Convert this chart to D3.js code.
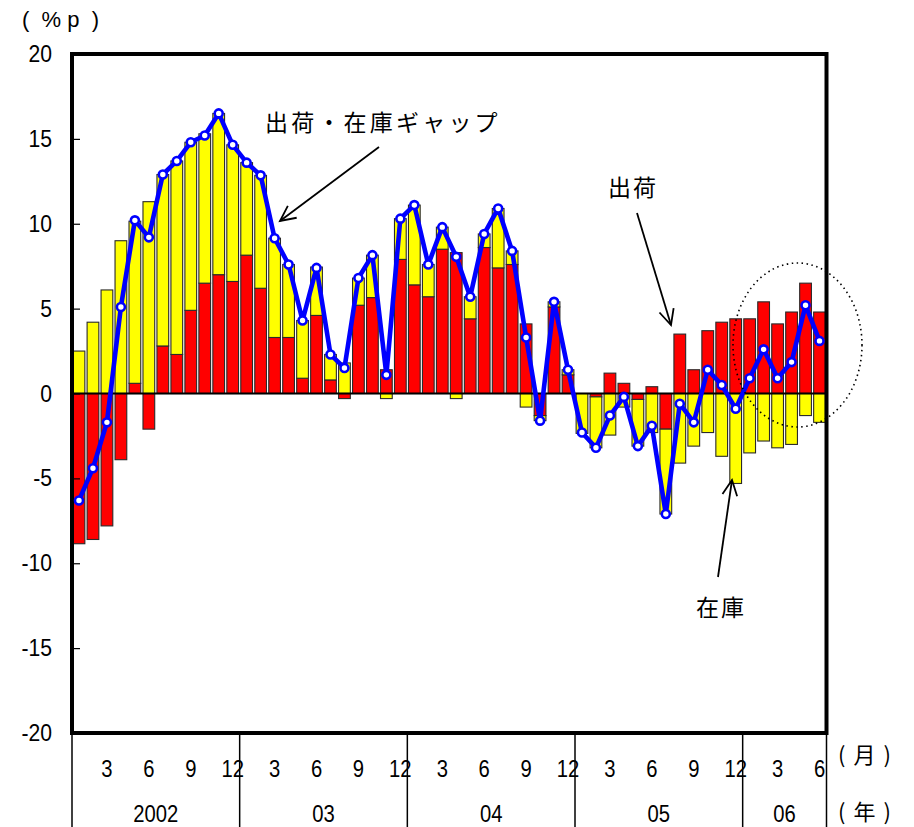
<!DOCTYPE html>
<html><head><meta charset="utf-8">
<script src="https://cdn.jsdelivr.net/npm/d3@7/dist/d3.min.js"></script>
<style>body{margin:0;background:#fff}svg{display:block}</style>
</head><body>
<svg id="c" width="914" height="827"></svg>
<script>
// ---- data ----
const years = ["2002","03","04","05","06"];
const monthsPerYear = [12,12,12,12,6];
const monthTickLabels = ["3","6","9","12"];
const yTicks = [20,15,10,5,0,-5,-10,-15,-20];
// shipments contribution (red)
const shipments = [-8.85,-8.6,-7.8,-3.9,0.6,-2.1,2.8,2.3,4.9,6.5,7.0,6.6,
  8.15,6.2,3.3,3.3,0.9,4.6,0.8,-0.3,5.2,5.65,1.4,7.9,
  6.4,5.7,8.5,8.3,4.4,8.6,7.4,7.6,4.1,-1.3,5.1,1.1,
  0,-0.2,1.2,0.6,-0.35,0.4,-2.1,3.5,1.4,3.7,4.2,4.4,
  4.4,5.4,4.1,4.8,6.5,4.8];
// inventory contribution (yellow)
const inventory = [2.5,4.2,6.1,9.0,9.55,11.3,10.1,11.4,9.9,8.8,9.5,8.05,
  5.45,6.65,5.85,4.3,3.4,2.85,1.5,1.8,1.6,2.5,-0.3,2.4,
  4.7,1.9,1.3,-0.3,1.3,0.8,3.5,0.8,-0.8,-0.3,0.3,0.3,
  -2.35,-3.0,-2.45,-0.8,-2.75,-2.3,-5.0,-4.1,-3.1,-2.3,-3.7,-5.3,
  -3.5,-2.8,-3.2,-3.0,-1.3,-1.7];
// shipment-inventory gap (line)
const gap = [-6.3,-4.4,-1.7,5.1,10.2,9.2,12.9,13.7,14.8,15.2,16.5,14.65,
  13.6,12.85,9.15,7.6,4.3,7.4,2.3,1.5,6.8,8.15,1.1,10.3,
  11.1,7.6,9.8,8.05,5.7,9.4,10.9,8.4,3.3,-1.6,5.4,1.4,
  -2.3,-3.2,-1.3,-0.2,-3.1,-1.9,-7.1,-0.6,-1.7,1.4,0.5,-0.9,
  0.9,2.6,0.9,1.85,5.2,3.1];

// categories
const cats = [];
years.forEach((y,i)=>{ for(let m=1;m<=monthsPerYear[i];m++) cats.push({year:y, yi:i, m:m, key:y+"-"+m}); });

// ---- layout ----
const L=72, R=826.5, T=54, B=733;
const svg = d3.select("#c");
const x = d3.scaleBand().domain(cats.map(d=>d.key)).range([L,R]).paddingInner(0.16).paddingOuter(0.08);
const y = d3.scaleLinear().domain([-20,20]).range([B,T]);
const NUM = "'Liberation Sans', Arial, sans-serif";
const JP = "'Noto Sans CJK JP', sans-serif";

// bars
const segs = [];
cats.forEach((c,i)=>{
  const r = shipments[i], v = inventory[i];
  segs.push({key:c.key, y0:0, y1:r, fill:"#ff0000"});
  let base = (Math.sign(v)===Math.sign(r)) ? r : 0;
  segs.push({key:c.key, y0:base, y1:base+v, fill:"#ffff00"});
});
svg.append("g").selectAll("rect").data(segs).join("rect")
  .attr("x", d=>x(d.key)).attr("width", x.bandwidth())
  .attr("y", d=>y(Math.max(d.y0,d.y1))).attr("height", d=>Math.abs(y(d.y0)-y(d.y1)))
  .attr("fill", d=>d.fill).attr("stroke","#2a2a2a").attr("stroke-width",1.1);

// zero line
svg.append("line").attr("x1",L).attr("x2",R).attr("y1",y(0)).attr("y2",y(0))
  .attr("stroke","#000").attr("stroke-width",2.2);

// y axis ticks (inward)
const yAxis = d3.axisRight(y).tickValues(yTicks).tickSize(8).tickFormat("");
const ga = svg.append("g").attr("transform",`translate(${L},0)`).call(yAxis);
ga.select(".domain").remove();
ga.selectAll("line").attr("stroke","#000").attr("stroke-width",1.2);

// y labels
svg.append("g").selectAll("text").data(yTicks).join("text")
  .attr("transform", d=>`translate(52,${y(d)+8}) scale(0.88,1)`)
  .attr("text-anchor","end").attr("font-family",NUM).attr("font-size",24)
  .text(d=>d);

// frame
svg.append("rect").attr("x",L).attr("y",T).attr("width",R-L).attr("height",B-T)
  .attr("fill","none").attr("stroke","#000").attr("stroke-width",4);

// line
const line = d3.line().x((d,i)=>x(cats[i].key)+x.bandwidth()/2).y(d=>y(d));
svg.append("path").datum(gap).attr("d",line).attr("fill","none")
  .attr("stroke","#0000ff").attr("stroke-width",4.6).attr("stroke-linejoin","round");
svg.append("g").selectAll("circle").data(gap).join("circle")
  .attr("cx",(d,i)=>x(cats[i].key)+x.bandwidth()/2).attr("cy",d=>y(d)).attr("r",4)
  .attr("fill","#fff").attr("stroke","#0000ff").attr("stroke-width",2.6);

// bottom axis: separators
const bounds = [L];
let acc = 0;
monthsPerYear.forEach(n=>{ acc+=n; bounds.push(L + acc*((R-L)/cats.length)); });
svg.append("g").selectAll("line").data(bounds).join("line")
  .attr("x1",d=>d).attr("x2",d=>d).attr("y1",B).attr("y2",827)
  .attr("stroke","#000").attr("stroke-width",1.5);

// month labels
const mt = cats.filter(c=>c.m%3===0);
svg.append("g").selectAll("text").data(mt).join("text")
  .attr("transform", d=>`translate(${x(d.key)+x.bandwidth()/2},777) scale(0.88,1)`)
  .attr("text-anchor","middle").attr("font-family",NUM).attr("font-size",23)
  .text(d=>monthTickLabels[d.m/3-1]);

// year labels
svg.append("g").selectAll("text").data(years).join("text")
  .attr("transform", (d,i)=>`translate(${(bounds[i]+bounds[i+1])/2},822) scale(0.88,1)`)
  .attr("text-anchor","middle").attr("font-family",NUM).attr("font-size",23)
  .text(d=>d);

// unit labels
svg.append("text").attr("x",838).attr("y",763).attr("font-family",JP).attr("font-size",22)
  .attr("letter-spacing",8).text("(月)");
svg.append("text").attr("x",838).attr("y",820).attr("font-family",JP).attr("font-size",22)
  .attr("letter-spacing",8).text("(年)");
svg.append("text").attr("x",22).attr("y",27).attr("font-family",NUM).attr("font-size",22)
  .attr("xml:space","preserve").text("(  % p  )");

// annotations
const ann = svg.append("g").attr("font-family",JP).attr("font-size",23).attr("fill","#000");
ann.append("text").attr("x",265).attr("y",131).attr("letter-spacing",3.2).text("出荷・在庫ギャップ");
ann.append("text").attr("x",608).attr("y",196).attr("letter-spacing",2).text("出荷");
ann.append("text").attr("x",696).attr("y",616).attr("letter-spacing",2).text("在庫");

function arrow(x1,y1,x2,y2){
  const g = svg.append("g").attr("stroke","#000").attr("stroke-width",1.8).attr("fill","none");
  g.append("line").attr("x1",x1).attr("y1",y1).attr("x2",x2).attr("y2",y2);
  const a = Math.atan2(y1-y2,x1-x2), len=17, sp=0.45;
  const p = [[x2+len*Math.cos(a+sp), y2+len*Math.sin(a+sp)],[x2,y2],[x2+len*Math.cos(a-sp), y2+len*Math.sin(a-sp)]];
  g.append("path").attr("d", d3.line()(p));
}
arrow(379,147,280,221);
arrow(637,213,671,325);
arrow(718,577,732,480);

// dotted ellipse
svg.append("ellipse").attr("cx",797.5).attr("cy",345).attr("rx",64.5).attr("ry",82)
  .attr("fill","none").attr("stroke","#000").attr("stroke-width",1.6).attr("stroke-dasharray","1.5,3.5");
</script>
</body></html>
